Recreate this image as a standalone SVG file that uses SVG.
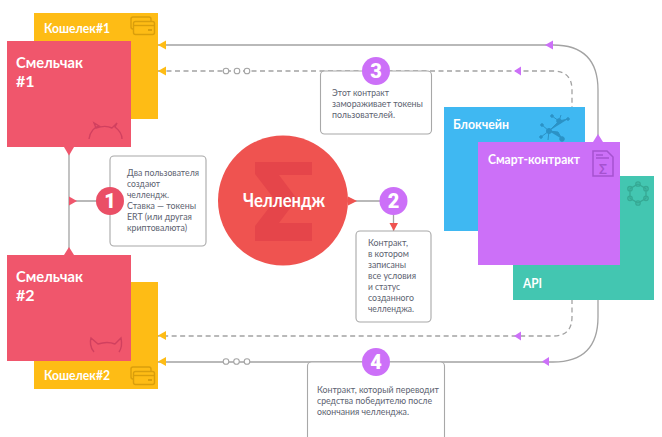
<svg xmlns="http://www.w3.org/2000/svg" width="662" height="437" viewBox="0 0 662 437">
<style>
text{font-family:"Lato","Roboto","Liberation Sans",sans-serif;}
.l{fill:none;stroke:#a3a3a3;stroke-width:1.3}
.d{stroke-dasharray:5 3.5}
.c{fill:#fff;stroke:#a3a3a3;stroke-width:1.1}
.b{fill:#fff;stroke:#a8a8a8;stroke-width:1.1}
.t{font-size:10px;fill:#5c6270}
.h{fill:#fff;font-weight:700}
.n{fill:#fff;font-weight:900;font-size:20px;text-anchor:middle;font-family:"Roboto","Liberation Sans",sans-serif}
.ic{fill:none;stroke-width:1.4}
.y{fill:#febc15}.p{fill:#cc70f8}.r{fill:#f0566c}
</style>
<g id="connectors">
<path class="l" d="M158 45H553Q598 45 598 90V142"/>
<path class="l d" d="M158 71H553Q572 71 572 90V142"/>
<path class="l" d="M598 265V317Q598 362 553 362H158"/>
<path class="l d" d="M572 265V317Q572 336 553 336H158"/>
<path class="l" d="M69 147V255M69 201H100"/>
<path class="l" d="M348 201H380M393.500 214V231"/>
<circle class="c" cx="226" cy="71" r="2.800"/><circle class="c" cx="237" cy="71" r="2.800"/><circle class="c" cx="247" cy="71" r="2.800"/>
<circle class="c" cx="226" cy="361.500" r="2.800"/><circle class="c" cx="236.500" cy="361.500" r="2.800"/><circle class="c" cx="247" cy="361.500" r="2.800"/>
<polygon class="y" points="158,45 166,40.500 166,49.500"/>
<polygon class="y" points="158,71 166,66.500 166,75.500"/>
<polygon class="y" points="158,335.500 166,331 166,340"/>
<polygon class="y" points="158,361.500 166,357 166,366"/>
<polygon class="p" points="545,45 553,40.500 553,49.500"/>
<polygon class="p" points="514,71 521,66.500 521,75.500"/>
<polygon class="p" points="514,336 521,331.500 521,340.500"/>
<polygon class="p" points="542,361.500 549,357 549,366"/>
<polygon class="p" points="567,142 572,134 577,142"/>
<polygon class="p" points="593,142 598,134 603,142"/>
<polygon class="p" points="567,265 572,274 577,265"/>
<polygon class="p" points="593,265 598,274 603,265"/>
<polygon class="r" points="64,147 69,155.500 74,147"/>
<polygon class="r" points="64,255 69,247 74,255"/>
<polygon class="r" points="69,196.500 77,201 69,205.500"/>
<polygon fill="#ef5350" points="348,196.500 357,201 348,205.500"/>
<polygon fill="#ef5350" points="389.500,223 398,223 393.700,231"/>
</g>
<g id="wallet1">
<rect x="34" y="13" width="124" height="106" class="y"/>
<text class="h" x="44" y="33" font-size="13" textLength="66" lengthAdjust="spacingAndGlyphs">Кошелек#1</text>
<g class="ic" stroke="#d99e0c"><rect x="131" y="17" width="20" height="12" rx="2"/><rect x="133.500" y="21.500" width="21" height="13" rx="2" fill="#febc15"/><path d="M133.500 25.500H154.500"/><rect x="148" y="29" width="4" height="2" fill="#d99e0c" stroke="none"/></g>
</g>
<g id="wallet2">
<rect x="34" y="282" width="124" height="107" class="y"/>
<text class="h" x="44" y="380" font-size="13" textLength="66" lengthAdjust="spacingAndGlyphs">Кошелек#2</text>
<g class="ic" stroke="#d99e0c"><rect x="131" y="367" width="20" height="12" rx="2"/><rect x="133.500" y="371.500" width="21" height="13" rx="2" fill="#febc15"/><path d="M133.500 375.500H154.500"/><rect x="148" y="379" width="4" height="2" fill="#d99e0c" stroke="none"/></g>
</g>
<g id="player1">
<rect x="7" y="41" width="124" height="106" class="r"/>
<text class="h" x="16" y="68" font-size="16" textLength="67" lengthAdjust="spacingAndGlyphs">Смельчак</text>
<text class="h" x="16" y="87" font-size="16">#1</text>
<path class="ic" stroke="#d1405f" d="M89 139C90 131 95 127 99 126L94 123L96 128C102 126 108 126 112 128L117 123L115 127C119 130 122 134 122 139"/>
</g>
<g id="player2">
<rect x="7" y="255" width="124" height="106" class="r"/>
<text class="h" x="16" y="282" font-size="16" textLength="67" lengthAdjust="spacingAndGlyphs">Смельчак</text>
<text class="h" x="16" y="301" font-size="16">#2</text>
<path class="ic" stroke="#d1405f" d="M94 352C90 348 90 341 91 338L98 344C104 342 110 342 115 344L121 338C122 343 122 348 119 352"/>
</g>
<g id="blockchain">
<rect x="444" y="107" width="141" height="124" fill="#3fb8f2"/>
<text class="h" x="453" y="129" font-size="13" textLength="56" lengthAdjust="spacingAndGlyphs">Блокчейн</text>
<g stroke="#2b92c6" stroke-width="1" fill="#2b92c6"><path d="M549 131L559 121L568 119M559 121L552 116M559 121L561 115M549 131L542 125M549 131L541 137M549 131L548 140M549 131L558 132L562 139"/><circle cx="549" cy="131" r="2.500"/><circle cx="559" cy="121" r="2.300"/><circle cx="568" cy="119" r="1.300"/><circle cx="552" cy="116" r="1.300"/><circle cx="542" cy="125" r="1.300"/><circle cx="541" cy="137" r="1.300"/><circle cx="562" cy="139" r="2.300"/></g>
</g>
<g id="api">
<rect x="513" y="176" width="141" height="124" fill="#43c6b1"/>
<text class="h" x="523" y="288" font-size="13" textLength="19" lengthAdjust="spacingAndGlyphs">API</text>
<g fill="none" stroke="#36a994" stroke-width="1.300"><polygon points="638,184 646,188.700 646,198.300 638,203 630,198.300 630,188.700"/><circle cx="638" cy="184" r="2.200"/><circle cx="646" cy="188.700" r="2.200"/><circle cx="646" cy="198.300" r="2.200"/><circle cx="638" cy="203" r="2.200"/><circle cx="630" cy="198.300" r="2.200"/><circle cx="630" cy="188.700" r="2.200"/></g>
</g>
<g id="smart">
<rect x="478" y="142" width="142" height="123" class="p"/>
<text class="h" x="488" y="164" font-size="13" textLength="92" lengthAdjust="spacingAndGlyphs">Смарт-контракт</text>
<g fill="none" stroke="#a552cf" stroke-width="1.500"><path d="M593 151H607L613 157V176H593Z"/><path d="M596 155H603M596 158H609" /></g>
<text x="603" y="174" font-size="13" font-weight="700" fill="#a552cf" text-anchor="middle">Σ</text>
</g>
<g id="challenge">
<circle cx="283" cy="200.500" r="65" fill="#ef5350"/>
<path fill="#e5454a" d="M255 162H312V175H279L297 199L279 223H312V241H255V226L275 200L255 174Z"/>
<text class="h" x="243" y="207" font-size="18" textLength="82" lengthAdjust="spacingAndGlyphs">Челлендж</text>
</g>
<g id="step1">
<rect class="b" x="110" y="156" width="96" height="90" rx="4"/>
<text class="t" x="127" y="176" textLength="72" lengthAdjust="spacingAndGlyphs">Два пользователя</text>
<text class="t" x="127" y="187" textLength="33" lengthAdjust="spacingAndGlyphs">создают</text>
<text class="t" x="127" y="198" textLength="42" lengthAdjust="spacingAndGlyphs">челлендж.</text>
<text class="t" x="127" y="209" textLength="69" lengthAdjust="spacingAndGlyphs">Ставка — токены</text>
<text class="t" x="127" y="220" textLength="65" lengthAdjust="spacingAndGlyphs">ERT (или другая</text>
<text class="t" x="127" y="231" textLength="60" lengthAdjust="spacingAndGlyphs">криптовалюта)</text>
<circle cx="110" cy="201" r="14" fill="#ea4f66"/>
<text class="n" x="110" y="208">1</text>
</g>
<g id="step2">
<rect class="b" x="356" y="231" width="75" height="91" rx="4"/>
<text class="t" x="368" y="246" textLength="40" lengthAdjust="spacingAndGlyphs">Контракт,</text>
<text class="t" x="368" y="257" textLength="41" lengthAdjust="spacingAndGlyphs">в котором</text>
<text class="t" x="368" y="268" textLength="38" lengthAdjust="spacingAndGlyphs">записаны</text>
<text class="t" x="368" y="279" textLength="48" lengthAdjust="spacingAndGlyphs">все условия</text>
<text class="t" x="368" y="290" textLength="32" lengthAdjust="spacingAndGlyphs">и статус</text>
<text class="t" x="368" y="301" textLength="46" lengthAdjust="spacingAndGlyphs">созданного</text>
<text class="t" x="368" y="312" textLength="46" lengthAdjust="spacingAndGlyphs">челленджа.</text>
<circle cx="393.500" cy="201" r="14" class="p"/>
<text class="n" x="393.500" y="208">2</text>
</g>
<g id="step3">
<rect class="b" x="320.500" y="71" width="111" height="63" rx="4"/>
<text class="t" x="332" y="96" textLength="57" lengthAdjust="spacingAndGlyphs">Этот контракт</text>
<text class="t" x="332" y="107" textLength="91" lengthAdjust="spacingAndGlyphs">замораживает токены</text>
<text class="t" x="332" y="118" textLength="63" lengthAdjust="spacingAndGlyphs">пользователей.</text>
<circle cx="376" cy="71" r="14" class="p"/>
<text class="n" x="376" y="78">3</text>
</g>
<g id="step4">
<rect class="b" x="307.500" y="362" width="137" height="80" rx="4"/>
<text class="t" x="317" y="393" textLength="122" lengthAdjust="spacingAndGlyphs">Контракт, который переводит</text>
<text class="t" x="317" y="404" textLength="115" lengthAdjust="spacingAndGlyphs">средства победителю после</text>
<text class="t" x="317" y="415" textLength="92" lengthAdjust="spacingAndGlyphs">окончания челленджа.</text>
<circle cx="376" cy="362" r="14" class="p"/>
<text class="n" x="376" y="369">4</text>
</g>
</svg>
